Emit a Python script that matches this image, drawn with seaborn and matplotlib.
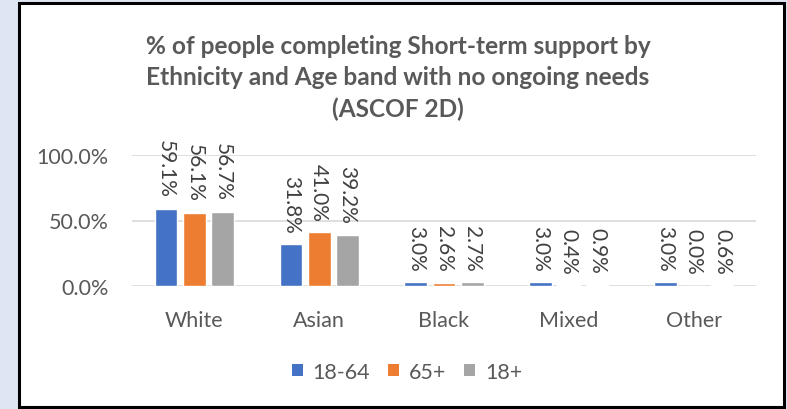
import matplotlib
matplotlib.use("Agg")
import matplotlib.pyplot as plt
from matplotlib.patches import Rectangle, Patch
import seaborn as sns
import pandas as pd

categories = ["White", "Asian", "Black", "Mixed", "Other"]
series_names = ["18-64", "65+", "18+"]
v_18_64 = [59.1, 31.8, 3.0, 3.0, 3.0]
v_65 = [56.1, 41.0, 2.6, 0.4, 0.0]
v_18 = [56.7, 39.2, 2.7, 0.9, 0.6]
colors = ["#4472C4", "#ED7D31", "#A5A5A5"]
title = "% of people completing Short-term support by\nEthnicity and Age band with no ongoing needs\n(ASCOF 2D)"

rows = []
for name, vals in zip(series_names, [v_18_64, v_65, v_18]):
    for c, v in zip(categories, vals):
        rows.append({"Ethnicity": c, "Age": name, "Value": v / 100.0})
df = pd.DataFrame(rows)

sns.set_theme(style="white")
plt.rcParams["font.family"] = ["Lato", "DejaVu Sans"]

W, H = 787, 410
fig = plt.figure(figsize=(W / 100, H / 100), dpi=100)
fig.patch.set_facecolor("#DFE6F3")
fig.patches.append(Rectangle((19 / W, 2 / H), (784 - 19) / W, (406 - 2) / H,
                             transform=fig.transFigure, facecolor="white",
                             edgecolor="black", linewidth=2.2, zorder=-10))

ax = fig.add_axes([132 / W, (H - 287) / H, (756 - 132) / W, (287 - 156) / H])
ax.set_facecolor("none")
sns.barplot(data=df, x="Ethnicity", y="Value", hue="Age", palette=colors,
            width=0.68, gap=0.2, ax=ax, legend=False, saturation=1)

ax.set_ylim(0, 1.0)
ax.set_yticks([0, 0.5, 1.0])
ax.set_yticklabels(["0.0%", "50.0%", "100.0%"])
ax.yaxis.grid(True, color="#D9D9D9", linewidth=1.2)
ax.set_axisbelow(True)
for s in ax.spines.values():
    s.set_visible(False)
ax.tick_params(axis="both", length=0, labelsize=15.5, labelcolor="#595959")
ax.tick_params(axis="x", pad=17)
ax.tick_params(axis="y", pad=17)
ax.set_xlabel("")
ax.set_ylabel("")

for cont in ax.containers:
    for bar in cont:
        h = bar.get_height()
        ax.annotate(f"{h * 100:.1f}%", (bar.get_x() + bar.get_width() / 2, h),
                    xytext=(0, 8.5), textcoords="offset points",
                    rotation=-90, ha="center", va="bottom",
                    fontsize=15, color="#404040", annotation_clip=False)

handles = [Patch(facecolor=c, edgecolor="none", label=n)
           for c, n in zip(colors, series_names)]
leg = ax.legend(handles=handles, loc="center", bbox_to_anchor=(407 / W, 1 - 373 / H),
                bbox_transform=fig.transFigure, ncol=3, frameon=False,
                fontsize=15.5, handlelength=0.5, handleheight=0.5,
                handletextpad=0.45, columnspacing=0.85)
for t in leg.get_texts():
    t.set_color("#595959")

fig.text(398 / W, 1 - 78 / H, title, ha="center", va="center",
         fontsize=17.6, fontweight="bold", color="#595959", linespacing=1.42)

fig.savefig("out.png", dpi=100, facecolor=fig.get_facecolor())
